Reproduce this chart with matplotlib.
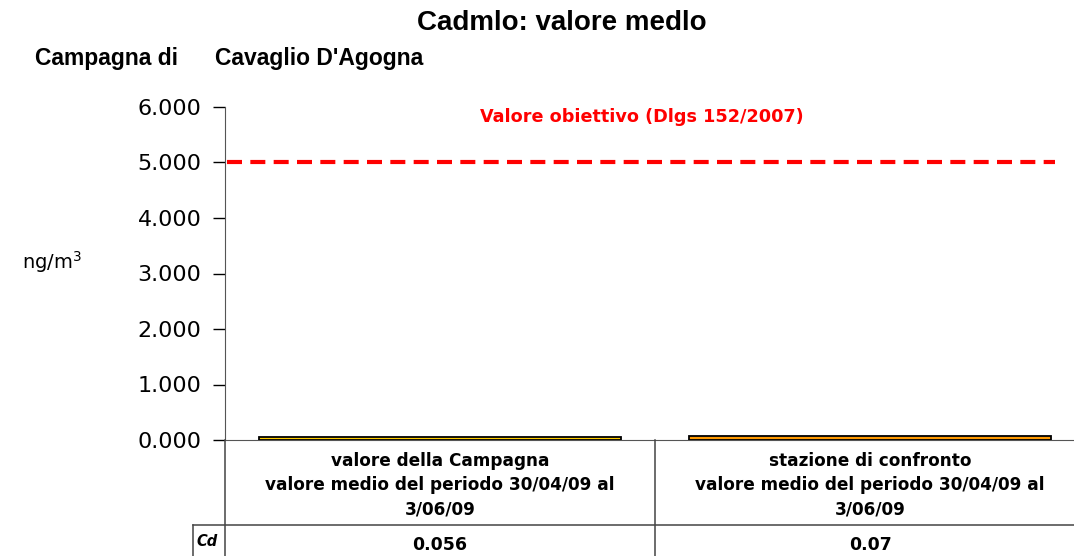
import numpy as np
import matplotlib.pyplot as plt
from matplotlib.lines import Line2D

categorie = ["valore della Campagna\nvalore medio del periodo 30/04/09 al\n3/06/09",
             "stazione di confronto\nvalore medio del periodo 30/04/09 al\n3/06/09"]
valori_cd = [0.056, 0.07]
colori = ["#FFCC00", "#FF9900"]
obiettivo = 5.0
y_ticks = [0, 1, 2, 3, 4, 5, 6]

W, H = 1074, 556
fig = plt.figure(figsize=(W / 100, H / 100), dpi=100)
ax = fig.add_axes([225 / W, 1 - 440 / H, 860 / W, 333 / H])

x = np.arange(len(valori_cd))
ax.bar(x, valori_cd, width=0.84, color=colori, edgecolor="black", linewidth=1.3, zorder=3)
ax.axhline(obiettivo, xmin=0.002, xmax=0.965, color="red", linewidth=3, dashes=(3.6, 2.0), zorder=2)
ax.text(0.47, 5.82, "Valore obiettivo (Dlgs 152/2007)", color="red", fontsize=12.7,
        fontweight="bold", ha="center", va="center", family="DejaVu Sans")

ax.set_xlim(-0.5, 1.5)
ax.set_ylim(0, 6)
ax.set_yticks(y_ticks)
ax.set_yticklabels([f"{v:.3f}" for v in y_ticks], fontsize=16, family="DejaVu Sans")
ax.tick_params(axis="y", direction="out", length=9, width=1, pad=8)
ax.set_xticks([])
for s in ["top", "right"]:
    ax.spines[s].set_visible(False)
ax.spines["left"].set_color("#555555")
ax.spines["bottom"].set_color("#555555")

# table below the chart
def px_line(x0, y0, x1, y1):
    fig.add_artist(Line2D([x0 / W, x1 / W], [1 - y0 / H, 1 - y1 / H], color="#444444", linewidth=1.1))

px_line(225, 440, 225, 556)
px_line(655, 440, 655, 556)
px_line(193, 525, 1074, 525)
px_line(193, 525, 193, 556)

for xi, (lab, v) in enumerate(zip(categorie, valori_cd)):
    ax.text(xi, -0.036, lab, transform=ax.get_xaxis_transform(), ha="center", va="top",
            fontsize=12.2, fontweight="bold", linespacing=1.45, family="DejaVu Sans")
    ax.text(xi, -0.315, f"{v:g}", transform=ax.get_xaxis_transform(), ha="center", va="center",
            fontsize=12.5, fontweight="bold", family="DejaVu Sans")
fig.text(196 / W, 1 - 542 / H, "Cd", fontsize=10.5, fontweight="bold", style="italic", va="center")

fig.text(562 / W, 1 - 23 / H, "Cadmlo: valore medlo", fontsize=20, fontweight="heavy",
         ha="center", va="center", family="Liberation Sans")
fig.text(35 / W, 1 - 58 / H, "Campagna di", fontsize=16.5, fontweight="bold", va="center", family="Liberation Sans")
fig.text(215 / W, 1 - 58 / H, "Cavaglio D'Agogna", fontsize=16.5, fontweight="bold", va="center", family="Liberation Sans")
fig.text(22 / W, 1 - 262 / H, "ng/m$^3$", fontsize=14, va="center", family="DejaVu Sans")

fig.savefig("out.png", dpi=100)
